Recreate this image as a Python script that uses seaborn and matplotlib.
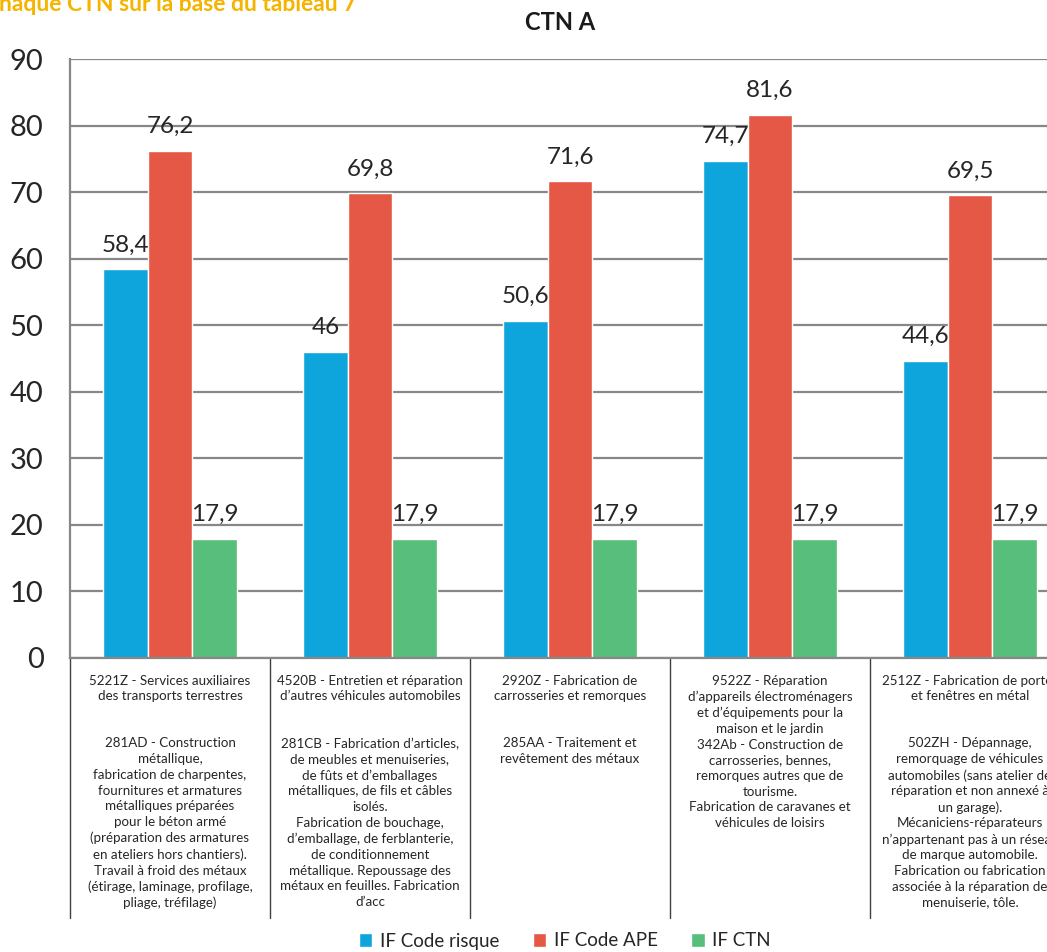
import numpy as np
import pandas as pd
import matplotlib
matplotlib.use("Agg")
import matplotlib.pyplot as plt
import matplotlib.transforms as mtransforms
import seaborn as sns

# categories (APE code + risk code descriptions)
categories = [
    "5221Z - Services auxiliaires\ndes transports terrestres\n\n\n"
    "281AD - Construction\nmétallique,\nfabrication de charpentes,\nfournitures et armatures\n"
    "métalliques préparées\npour le béton armé\n(préparation des armatures\nen ateliers hors chantiers).\n"
    "Travail à froid des métaux\n(étirage, laminage, profilage,\npliage, tréfilage)",
    "4520B - Entretien et réparation\nd’autres véhicules automobiles\n\n\n"
    "281CB - Fabrication d’articles,\nde meubles et menuiseries,\nde fûts et d’emballages\n"
    "métalliques, de fils et câbles\nisolés.\nFabrication de bouchage,\nd’emballage, de ferblanterie,\n"
    "de conditionnement\nmétallique. Repoussage des\nmétaux en feuilles. Fabrication\nd’acc",
    "2920Z - Fabrication de\ncarrosseries et remorques\n\n\n"
    "285AA - Traitement et\nrevêtement des métaux",
    "9522Z - Réparation\nd’appareils électroménagers\net d’équipements pour la\nmaison et le jardin\n"
    "342Ab - Construction de\ncarrosseries, bennes,\nremorques autres que de\ntourisme.\n"
    "Fabrication de caravanes et\nvéhicules de loisirs",
    "2512Z - Fabrication de portes\net fenêtres en métal\n\n\n"
    "502ZH - Dépannage,\nremorquage de véhicules\nautomobiles (sans atelier de\nréparation et non annexé à\n"
    "un garage).\nMécaniciens-réparateurs\nn’appartenant pas à un réseau\nde marque automobile.\n"
    "Fabrication ou fabrication\nassociée à la réparation de\nmenuiserie, tôle.",
]
series = ["IF Code risque", "IF Code APE", "IF CTN"]
if_code_risque = [58.4, 46, 50.6, 74.7, 44.6]
if_code_ape = [76.2, 69.8, 71.6, 81.6, 69.5]
if_ctn = [17.9, 17.9, 17.9, 17.9, 17.9]
colors = ["#0EA5DD", "#E55846", "#58BE7B"]

rows = []
for s, vals in zip(series, [if_code_risque, if_code_ape, if_ctn]):
    for c, v in zip(categories, vals):
        rows.append({"cat": c, "serie": s, "val": v})
df = pd.DataFrame(rows)

sns.set_style("white")
plt.rcParams["font.family"] = ["Lato", "DejaVu Sans"]

grey = "#878787"
fig = plt.figure(figsize=(10.47, 9.52), dpi=100)
ax = fig.add_axes([70 / 1047, (952 - 658) / 952, 1000 / 1047, 599 / 952])

sns.barplot(data=df, x="cat", y="val", hue="serie", palette=colors,
            width=0.67, gap=0, saturation=1, ax=ax, errorbar=None)

ax.set_xlim(-0.5, 4.5)
ax.set_ylim(0, 90)
ax.set_yticks(np.arange(0, 91, 10))
ax.yaxis.grid(True, color=grey, linewidth=1.6)
ax.set_axisbelow(True)
ax.tick_params(axis="y", length=7, width=1.6, color=grey, pad=12, labelsize=21)
ax.tick_params(axis="x", length=0, pad=12, labelsize=9.6)
for lab in ax.get_xticklabels():
    lab.set_linespacing(1.37)
    lab.set_verticalalignment("top")
ax.set_xlabel("")
ax.set_ylabel("")
for side in ["top", "right"]:
    ax.spines[side].set_visible(False)
for side in ["left", "bottom"]:
    ax.spines[side].set_color(grey)
    ax.spines[side].set_linewidth(1.6)

# value labels
for cont in ax.containers:
    labels = [f"{b.get_height():g}".replace(".", ",") for b in cont]
    ax.bar_label(cont, labels=labels, padding=10, fontsize=17.5)

# separators below axis (category table)
trans = mtransforms.blended_transform_factory(ax.transData, ax.transAxes)
for b in np.arange(-0.5, 5, 1):
    ax.plot([b, b], [0, -0.434], transform=trans, color="#404040",
            linewidth=1, clip_on=False)

sns.move_legend(ax, "center", bbox_to_anchor=(565 / 1047, 1 - 941 / 952),
                bbox_transform=fig.transFigure, ncol=3, frameon=False,
                title=None, fontsize=13.5, handlelength=0.7, handleheight=0.7,
                columnspacing=1.8, handletextpad=0.4)

fig.text(560 / 1047, 1 - 23 / 952, "CTN A", ha="center", va="center",
         fontsize=17, fontweight="bold", color="#1a1a1a",
         family=["Liberation Sans Narrow", "Lato", "DejaVu Sans"])
fig.text(-12 / 1047, 1 - 11 / 952, "chaque CTN sur la base du tableau 7",
         ha="left", va="baseline", fontsize=16.5, fontweight="bold",
         color="#F5B400")

fig.savefig("out.png", dpi=100)
